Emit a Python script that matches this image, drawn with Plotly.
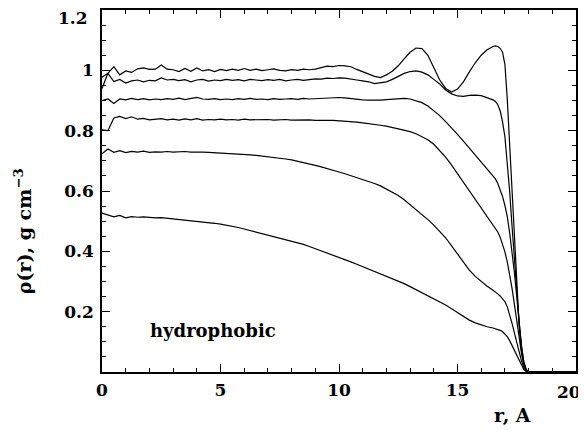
import numpy as np
import plotly.graph_objects as go

# r grid (Angstrom)
r_main = [round(0.25 * i, 2) for i in range(67)]          # 0 .. 16.5
r_fine = [round(16.6 + 0.1 * i, 1) for i in range(15)]     # 16.6 .. 18.0
r_tail = [18.5, 19.0, 19.5, 20.0]
r = r_main + r_fine + r_tail

rho_1 = [0.940, 0.990, 1.012, 0.985, 0.998, 0.993, 1.005, 1.008, 1.003, 1.004,
         1.018, 1.004, 1.002, 0.996, 1.006, 0.997, 1.008, 0.998, 1.002, 0.996,
         1.003, 0.999, 1.004, 1.000, 1.006, 1.000, 1.004, 0.999, 1.002, 1.005,
         1.000, 0.998, 1.002, 1.000, 1.004, 1.002, 1.004, 1.008, 1.014, 1.012,
         1.016, 1.015, 1.012, 1.003, 0.995, 0.988, 0.980, 0.976, 0.985, 0.997,
         1.015, 1.038, 1.060, 1.074, 1.072, 1.050, 1.010, 0.968, 0.940, 0.928,
         0.938, 0.962, 0.995, 1.025, 1.050, 1.068, 1.079,
         1.081, 1.079, 1.073, 1.060, 1.020, 0.905, 0.755, 0.595, 0.435, 0.285,
         0.155, 0.070, 0.025, 0.006, 0.0,
         0.0, 0.0, 0.0, 0.0]

rho_2 = [0.977, 0.990, 0.963, 0.970, 0.958, 0.965, 0.968, 0.962, 0.967, 0.965,
         0.975, 0.968, 0.970, 0.966, 0.969, 0.962, 0.968, 0.970, 0.964, 0.968,
         0.966, 0.970, 0.967, 0.969, 0.965, 0.970, 0.968, 0.966, 0.969, 0.967,
         0.970, 0.965, 0.968, 0.970, 0.967, 0.970, 0.972, 0.971, 0.974, 0.973,
         0.975, 0.974, 0.972, 0.968, 0.965, 0.962, 0.956, 0.958, 0.962, 0.970,
         0.980, 0.990, 0.996, 0.998, 0.994, 0.985, 0.970, 0.955, 0.935, 0.922,
         0.915, 0.914, 0.917, 0.918, 0.916, 0.910, 0.902,
         0.897, 0.886, 0.866, 0.830, 0.780, 0.700, 0.600, 0.485, 0.370, 0.262,
         0.165, 0.085, 0.032, 0.008, 0.0,
         0.0, 0.0, 0.0, 0.0]

rho_3 = [0.900, 0.905, 0.890, 0.905, 0.902, 0.907, 0.903, 0.906, 0.902, 0.905,
         0.903, 0.906, 0.904, 0.908, 0.903, 0.906, 0.910, 0.905, 0.904, 0.906,
         0.903, 0.905, 0.903, 0.906, 0.904, 0.907, 0.904, 0.905, 0.903, 0.906,
         0.904, 0.905, 0.906, 0.904, 0.907, 0.905, 0.906, 0.908, 0.907, 0.909,
         0.910, 0.909, 0.906, 0.904, 0.902, 0.901, 0.900, 0.901, 0.903, 0.905,
         0.907, 0.907, 0.905, 0.900, 0.893, 0.882, 0.867, 0.850, 0.830, 0.810,
         0.788, 0.765, 0.742, 0.718, 0.695, 0.672, 0.648,
         0.640, 0.625, 0.605, 0.582, 0.552, 0.515, 0.462, 0.400, 0.330, 0.250,
         0.165, 0.085, 0.032, 0.008, 0.0,
         0.0, 0.0, 0.0, 0.0]

rho_4 = [0.803, 0.800, 0.842, 0.847, 0.840, 0.846, 0.838, 0.841, 0.836, 0.838,
         0.840, 0.836, 0.838, 0.835, 0.839, 0.836, 0.840, 0.835, 0.837, 0.836,
         0.838, 0.836, 0.837, 0.835, 0.838, 0.836, 0.837, 0.836, 0.837, 0.835,
         0.836, 0.837, 0.835, 0.836, 0.835, 0.836, 0.834, 0.835, 0.834, 0.834,
         0.833, 0.832, 0.830, 0.828, 0.826, 0.824, 0.821, 0.818, 0.815, 0.811,
         0.807, 0.802, 0.797, 0.790, 0.781, 0.770, 0.755, 0.735, 0.712, 0.686,
         0.658, 0.628, 0.598, 0.570, 0.542, 0.515, 0.490,
         0.478, 0.464, 0.447, 0.425, 0.398, 0.365, 0.325, 0.278, 0.225, 0.168,
         0.112, 0.062, 0.025, 0.006, 0.0,
         0.0, 0.0, 0.0, 0.0]

rho_5 = [0.723, 0.739, 0.728, 0.734, 0.727, 0.731, 0.729, 0.732, 0.728, 0.730,
         0.729, 0.731, 0.729, 0.730, 0.731, 0.729, 0.730, 0.729, 0.728, 0.727,
         0.727, 0.726, 0.725, 0.723, 0.722, 0.720, 0.718, 0.716, 0.714, 0.712,
         0.709, 0.706, 0.703, 0.699, 0.695, 0.690, 0.685, 0.680, 0.675, 0.669,
         0.663, 0.657, 0.651, 0.645, 0.639, 0.632, 0.625, 0.617, 0.607, 0.597,
         0.585, 0.571, 0.555, 0.539, 0.522, 0.505, 0.487, 0.467, 0.445, 0.418,
         0.390, 0.363, 0.338, 0.317, 0.300, 0.284, 0.271,
         0.266, 0.259, 0.252, 0.244, 0.233, 0.216, 0.192, 0.162, 0.130, 0.097,
         0.066, 0.037, 0.016, 0.004, 0.0,
         0.0, 0.0, 0.0, 0.0]

rho_6 = [0.527, 0.520, 0.514, 0.519, 0.511, 0.515, 0.513, 0.514, 0.512, 0.511,
         0.512, 0.510, 0.509, 0.507, 0.505, 0.503, 0.500, 0.498, 0.496, 0.493,
         0.490, 0.487, 0.483, 0.479, 0.474, 0.469, 0.464, 0.459, 0.454, 0.449,
         0.444, 0.439, 0.434, 0.429, 0.423, 0.416, 0.409, 0.402, 0.395, 0.388,
         0.381, 0.373, 0.365, 0.357, 0.349, 0.341, 0.333, 0.325, 0.318, 0.310,
         0.302, 0.293, 0.283, 0.273, 0.264, 0.254, 0.243, 0.233, 0.222, 0.210,
         0.197, 0.184, 0.172, 0.163, 0.156, 0.150, 0.146,
         0.144, 0.141, 0.138, 0.134, 0.127, 0.117, 0.104, 0.088, 0.070, 0.052,
         0.035, 0.020, 0.008, 0.002, 0.0,
         0.0, 0.0, 0.0, 0.0]

series = [rho_1, rho_2, rho_3, rho_4, rho_5, rho_6]

x_ticks = [0, 5, 10, 15, 20]
x_tick_text = ["0", "5", "10", "15", "20"]
y_ticks = [0.2, 0.4, 0.6, 0.8, 1.0, 1.2]
y_tick_text = ["0.2", "0.4", "0.6", "0.8", "1", "1.2"]

FONT = "DejaVu Serif, serif"
TICKFONT = dict(family=FONT, size=17, color="black", weight="bold")

fig = go.Figure()
for s in series:
    fig.add_trace(go.Scatter(x=r, y=s, mode="lines",
                             line=dict(color="black", width=1.2),
                             showlegend=False, hoverinfo="skip"))

axis_common = dict(
    showline=True, linecolor="black", linewidth=1.5, mirror="allticks",
    ticks="inside", ticklen=8, tickwidth=1.2, tickcolor="black",
    showgrid=False, zeroline=False, automargin=False,
    tickfont=TICKFONT,
)

# edge labels (first/last) are drawn as annotations so they stay inside the page
fig.update_xaxes(range=[0, 20], tickvals=x_ticks,
                 ticktext=x_tick_text[:-1] + [""],
                 minor=dict(dtick=1, ticks="inside", ticklen=4, tickcolor="black", tickwidth=1),
                 ticklabelstandoff=2, **axis_common)
fig.update_yaxes(range=[0, 1.2], tickvals=y_ticks,
                 ticktext=y_tick_text[:-1] + [""],
                 minor=dict(dtick=0.05, ticks="inside", ticklen=4, tickcolor="black", tickwidth=1),
                 ticklabelstandoff=3, **axis_common)

fig.add_annotation(text=y_tick_text[-1], xref="paper", yref="y", x=-0.025, y=y_ticks[-1],
                   xanchor="right", yanchor="top", yshift=4, showarrow=False, font=TICKFONT)
fig.add_annotation(text=x_tick_text[-1], xref="x", yref="paper", x=x_ticks[-1], y=0,
                   xanchor="right", yanchor="top", xshift=7, yshift=-8, showarrow=False,
                   font=TICKFONT)

fig.add_annotation(text="hydrophobic", xref="x", yref="y", x=4.68, y=0.139,
                   showarrow=False, font=dict(family=FONT, size=18, color="black", weight="bold"))
fig.add_annotation(text="r, A", xref="paper", yref="paper", x=0.867, y=-0.119,
                   xanchor="center", yanchor="middle", showarrow=False,
                   font=dict(family=FONT, size=19, color="black", weight="bold"))
fig.add_annotation(text="ρ(r), g cm<sup>−3</sup>", xref="paper", yref="paper",
                   x=-0.168, y=0.39, xanchor="center", yanchor="middle", textangle=-90,
                   showarrow=False,
                   font=dict(family=FONT, size=19, color="black", weight="bold"))

# the page body adds an 8 px offset; size the figure so the plot lands where the reference has it
fig.update_layout(width=578, height=422, margin=dict(l=94, r=10, t=2, b=58),
                  paper_bgcolor="white", plot_bgcolor="white")

fig.write_html("out.html")
